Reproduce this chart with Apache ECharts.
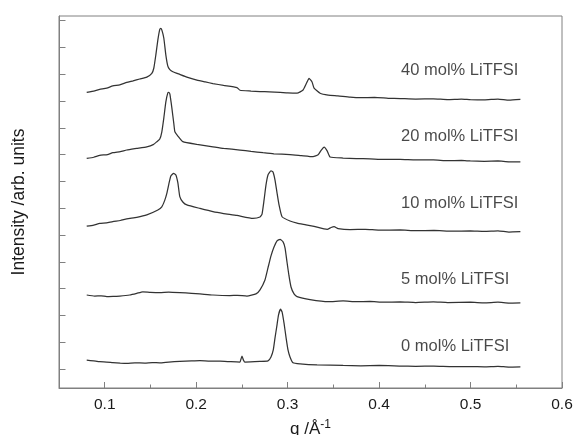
<!DOCTYPE html>
<html>
<head>
<meta charset="utf-8">
<script src="https://cdn.jsdelivr.net/npm/echarts@6/dist/echarts.min.js"></script>
<style>html,body{margin:0;padding:0;background:#fff}#c{width:576px;height:435px}</style>
</head>
<body>
<div id="c"></div>
<script>
// tick labels
var xMajorTicks = [0.1, 0.2, 0.3, 0.4, 0.5, 0.6];
var xMinorTicks = [0.15, 0.25, 0.35, 0.45, 0.55];
var yTicks = [0.71, 1.71, 2.71, 3.71, 4.71, 5.71, 6.71, 7.71, 8.71, 9.71, 10.71, 11.71, 12.71, 13.71];

// series labels and their anchor positions (q, intensity)
var seriesNames = ['40 mol% LiTFSI', '20 mol% LiTFSI', '10 mol% LiTFSI', '5 mol% LiTFSI', '0 mol% LiTFSI'];
var labelY = [11.83, 9.40, 6.89, 4.06, 1.54];
var labelX = 0.424;

// curves: [q, intensity (arb., offset)]
var mol40 = [[0.0803,11.03],[0.0890,11.09],[0.0945,11.14],[0.1022,11.19],[0.1088,11.27],[0.1164,11.31],[0.1241,11.40],[0.1310,11.46],[0.1383,11.53],[0.1460,11.60],[0.1515,11.74],[0.1537,11.94],[0.1559,12.43],[0.1581,12.99],[0.1602,13.38],[0.1613,13.42],[0.1624,13.36],[0.1646,13.06],[0.1668,12.43],[0.1690,12.01],[0.1712,11.88],[0.1745,11.80],[0.1821,11.70],[0.1898,11.60],[0.2008,11.49],[0.2100,11.42],[0.2183,11.36],[0.2300,11.29],[0.2446,11.21],[0.2479,11.11],[0.2600,11.08],[0.2698,11.06],[0.2800,11.05],[0.2917,11.03],[0.3000,11.01],[0.3103,11.00],[0.3169,11.12],[0.3202,11.34],[0.3234,11.55],[0.3267,11.42],[0.3289,11.19],[0.3355,11.00],[0.3443,10.93],[0.3550,10.90],[0.3683,10.85],[0.3800,10.83],[0.3950,10.84],[0.4100,10.81],[0.4231,10.80],[0.4400,10.78],[0.4593,10.79],[0.4750,10.76],[0.4900,10.78],[0.4998,10.76],[0.5150,10.75],[0.5300,10.78],[0.5420,10.74],[0.5545,10.77]];
var mol20 = [[0.0803,8.57],[0.0880,8.61],[0.0945,8.68],[0.1030,8.71],[0.1088,8.78],[0.1170,8.82],[0.1241,8.88],[0.1350,8.94],[0.1460,9.00],[0.1530,9.08],[0.1570,9.19],[0.1602,9.29],[0.1624,9.55],[0.1646,10.07],[0.1668,10.67],[0.1690,11.01],[0.1701,11.03],[0.1712,10.97],[0.1734,10.45],[0.1756,9.85],[0.1767,9.56],[0.1800,9.40],[0.1854,9.19],[0.2008,9.09],[0.2183,9.00],[0.2300,8.94],[0.2479,8.88],[0.2600,8.83],[0.2731,8.78],[0.2850,8.74],[0.3026,8.71],[0.3150,8.67],[0.3278,8.63],[0.3333,8.70],[0.3366,8.87],[0.3399,8.99],[0.3432,8.85],[0.3464,8.62],[0.3607,8.58],[0.3750,8.56],[0.3900,8.55],[0.4050,8.53],[0.4231,8.53],[0.4400,8.51],[0.4593,8.51],[0.4750,8.48],[0.4900,8.49],[0.4998,8.47],[0.5150,8.46],[0.5300,8.47],[0.5420,8.44],[0.5545,8.44]];
var mol10 = [[0.0803,6.04],[0.0880,6.08],[0.0945,6.14],[0.1020,6.16],[0.1088,6.21],[0.1170,6.25],[0.1241,6.31],[0.1350,6.37],[0.1460,6.46],[0.1581,6.64],[0.1624,6.76],[0.1657,7.01],[0.1679,7.26],[0.1701,7.61],[0.1723,7.91],[0.1753,8.01],[0.1778,7.95],[0.1800,7.65],[0.1821,7.14],[0.1854,6.94],[0.1898,6.83],[0.2041,6.70],[0.2183,6.58],[0.2300,6.51],[0.2446,6.44],[0.2621,6.33],[0.2698,6.38],[0.2720,6.49],[0.2742,7.01],[0.2763,7.57],[0.2785,7.95],[0.2818,8.10],[0.2840,8.06],[0.2862,7.76],[0.2884,7.28],[0.2906,6.83],[0.2939,6.39],[0.3026,6.23],[0.3103,6.15],[0.3200,6.09],[0.3289,6.03],[0.3432,5.92],[0.3475,5.99],[0.3508,6.02],[0.3552,5.95],[0.3683,5.91],[0.3850,5.92],[0.4000,5.89],[0.4231,5.90],[0.4400,5.87],[0.4600,5.88],[0.4800,5.85],[0.4998,5.86],[0.5150,5.84],[0.5300,5.86],[0.5420,5.82],[0.5545,5.83]];
var mol5 = [[0.0803,3.47],[0.0890,3.43],[0.0960,3.44],[0.1022,3.41],[0.1100,3.42],[0.1164,3.43],[0.1274,3.47],[0.1350,3.53],[0.1416,3.59],[0.1500,3.57],[0.1602,3.56],[0.1700,3.58],[0.1821,3.56],[0.1950,3.53],[0.2041,3.51],[0.2183,3.47],[0.2369,3.45],[0.2450,3.46],[0.2555,3.43],[0.2654,3.51],[0.2698,3.66],[0.2752,4.03],[0.2785,4.48],[0.2818,4.93],[0.2851,5.26],[0.2884,5.49],[0.2917,5.55],[0.2950,5.45],[0.2972,5.22],[0.2993,4.70],[0.3015,4.18],[0.3037,3.77],[0.3070,3.51],[0.3103,3.41],[0.3245,3.30],[0.3443,3.22],[0.3607,3.25],[0.3750,3.22],[0.3900,3.23],[0.4050,3.20],[0.4231,3.21],[0.4400,3.19],[0.4593,3.21],[0.4750,3.19],[0.4998,3.20],[0.5150,3.18],[0.5300,3.20],[0.5420,3.17],[0.5545,3.18]];
var mol0 = [[0.0803,1.04],[0.0880,1.01],[0.0945,0.98],[0.1020,0.97],[0.1088,0.95],[0.1170,0.93],[0.1241,0.92],[0.1330,0.94],[0.1438,0.93],[0.1520,0.95],[0.1602,0.94],[0.1700,0.97],[0.1821,0.99],[0.1950,1.01],[0.2041,1.02],[0.2150,1.00],[0.2260,1.00],[0.2380,0.98],[0.2479,0.97],[0.2490,1.08],[0.2501,1.19],[0.2517,1.04],[0.2533,0.97],[0.2698,0.99],[0.2785,1.01],[0.2818,1.16],[0.2843,1.42],[0.2862,1.87],[0.2881,2.29],[0.2900,2.72],[0.2922,2.94],[0.2939,2.84],[0.2961,2.41],[0.2982,1.90],[0.3004,1.42],[0.3026,1.16],[0.3059,0.94],[0.3136,0.90],[0.3322,0.86],[0.3607,0.84],[0.3800,0.83],[0.4000,0.84],[0.4231,0.82],[0.4400,0.81],[0.4600,0.82],[0.4800,0.80],[0.4998,0.80],[0.5150,0.79],[0.5300,0.81],[0.5420,0.78],[0.5545,0.79]];

var curves = [mol40, mol20, mol10, mol5, mol0];

var FONT = 'Liberation Sans, Arial, sans-serif';
var chart = echarts.init(document.getElementById('c'), null, {renderer: 'canvas'});

var series = curves.map(function (d, i) {
  return {
    type: 'line', name: seriesNames[i], data: d, showSymbol: false, symbol: 'none',
    xAxisIndex: 0, yAxisIndex: 0, smooth: 0.15, animation: false,
    lineStyle: {color: '#333', width: 1.25}
  };
});
series.push({
  type: 'scatter', xAxisIndex: 0, yAxisIndex: 0, symbolSize: 0, animation: false, silent: true,
  data: seriesNames.map(function (n, i) { return {name: n, value: [labelX, labelY[i]]}; }),
  label: {show: true, position: 'right', distance: 0, formatter: '{b}', color: '#1a1a1a', fontSize: 16.5, fontFamily: FONT}
});

chart.setOption({
  backgroundColor: '#fff',
  animation: false,
  grid: {left: 59, right: 14, top: 16, bottom: 47, containLabel: false, outerBoundsMode: 'none',
    show: true, borderColor: '#808080', borderWidth: 1, backgroundColor: 'transparent'},
  xAxis: [{
    type: 'value', min: 0.05, max: 0.6, position: 'bottom',
    name: 'q /Å{sup|-1}', nameLocation: 'middle', nameGap: 31,
    nameTextStyle: {color: '#1a1a1a', fontSize: 17, fontFamily: FONT, rich: {sup: {fontSize: 12, fontFamily: FONT, color: '#1a1a1a', padding: [0, 0, 9, 0]}}},
    axisLine: {show: true, lineStyle: {color: '#808080', width: 1}},
    axisTick: {show: true, inside: true, length: 6, customValues: xMajorTicks, lineStyle: {color: '#808080'}},
    axisLabel: {show: true, customValues: xMajorTicks, margin: 9, color: '#1a1a1a', fontSize: 15.5, fontFamily: FONT,
      formatter: function (v) { return v.toFixed(1); }},
    splitLine: {show: false}
  }, {
    type: 'value', min: 0.05, max: 0.6, position: 'bottom', offset: 0,
    axisLine: {show: false},
    axisTick: {show: true, inside: true, length: 3.5, customValues: xMinorTicks, lineStyle: {color: '#808080'}},
    axisLabel: {show: false},
    splitLine: {show: false}
  }],
  yAxis: [{
    type: 'value', min: 0, max: 13.88, position: 'left',
    name: 'Intensity /arb. units', nameLocation: 'middle', nameGap: 31, nameRotate: 90,
    nameTextStyle: {color: '#1a1a1a', fontSize: 17.5, fontFamily: FONT},
    axisLine: {show: true, lineStyle: {color: '#808080', width: 1}},
    axisTick: {show: true, inside: true, length: 6.5, customValues: yTicks, lineStyle: {color: '#808080'}},
    axisLabel: {show: false},
    splitLine: {show: false}
  }],
  series: series
});
</script>
</body>
</html>
